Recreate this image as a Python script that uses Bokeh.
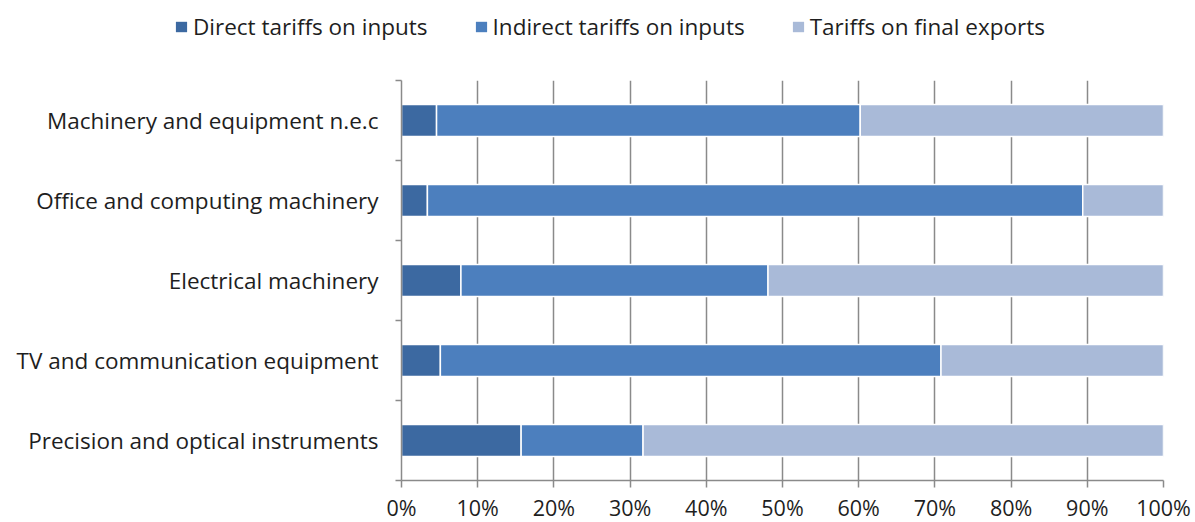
import numpy as np
from bokeh.plotting import figure
from bokeh.layouts import column
from bokeh.models import ColumnDataSource, FixedTicker, Legend, LegendItem, Range1d
from bokeh.embed import file_html
from bokeh.resources import INLINE

categories = [
    "Precision and optical instruments",
    "TV and communication equipment",
    "Electrical machinery",
    "Office and computing machinery",
    "Machinery and equipment n.e.c",
]
direct = [15.7, 5.1, 7.8, 3.4, 4.6]
indirect = [16.0, 65.7, 40.3, 86.0, 55.6]
final = [68.3, 29.2, 51.9, 10.6, 39.8]
series = ["Direct tariffs on inputs", "Indirect tariffs on inputs", "Tariffs on final exports"]
colors = ["#3C69A1", "#4C7FBE", "#A9BAD8"]
x_ticks = list(range(0, 101, 10))
x_tick_labels = [f"{t}%" for t in x_ticks]

FONT = "Open Sans"
FS = "22.5px"
FS_X = "21.5px"
TEXT = "#1e1e1e"
GRID = "#8a8a8a"

ypos = list(np.arange(len(categories)) + 0.5)
src = ColumnDataSource(dict(y=ypos, d=[v / 100 for v in direct], i=[v / 100 for v in indirect],
                            f=[v / 100 for v in final]))

# ---- legend strip (its renderers are hidden; only their swatches are shown) ----
lf = figure(frame_width=1195, frame_height=50, output_backend="svg", toolbar_location=None,
            x_range=Range1d(0, 1), y_range=Range1d(0, 1),
            min_border_left=0, min_border_right=0, min_border_top=0, min_border_bottom=0,
            x_axis_type=None, y_axis_type=None)
lf.outline_line_color = None
lf.grid.grid_line_color = None
lrs = lf.hbar_stack(["d", "i", "f"], y="y", height=0.4, source=src, color=colors,
                    line_color=None, visible=False)
legend = Legend(items=[LegendItem(label=s, renderers=[r]) for s, r in zip(series, lrs)],
                orientation="horizontal", location=(174, 8),
                glyph_width=14, glyph_height=13, label_standoff=5, spacing=46,
                padding=0, margin=0, border_line_color=None, background_fill_alpha=0,
                inactive_fill_alpha=0,
                label_text_font=FONT, label_text_font_size=FS, label_text_color=TEXT,
                label_height=22)
lf.add_layout(legend, "center")

# ---- main chart ----
p = figure(frame_width=762, frame_height=400, output_backend="svg", toolbar_location=None,
           x_range=Range1d(0, 1), y_range=Range1d(0, len(categories)),
           min_border_left=401, min_border_top=30, min_border_right=32, min_border_bottom=30)
p.outline_line_color = None

renderers = p.hbar_stack(["d", "i", "f"], y="y", height=0.4, source=src, color=colors,
                         line_color="white", line_width=1.5)

p.xaxis.ticker = FixedTicker(ticks=[t / 100 for t in x_ticks], minor_ticks=[])
p.xaxis.major_label_overrides = {t / 100: lab for t, lab in zip(x_ticks, x_tick_labels)}
p.xaxis.axis_line_color = GRID
p.xaxis.axis_line_width = 1.5
p.xaxis.major_tick_line_color = GRID
p.xaxis.major_tick_line_width = 1.5
p.xaxis.major_tick_in = 0
p.xaxis.major_tick_out = 7
p.xaxis.major_label_standoff = 5
p.xaxis.major_label_text_font = FONT
p.xaxis.major_label_text_font_size = FS_X
p.xaxis.major_label_text_color = TEXT

p.yaxis.ticker = FixedTicker(ticks=ypos, minor_ticks=list(range(len(categories) + 1)))
p.yaxis.major_label_overrides = {y: c for y, c in zip(ypos, categories)}
p.yaxis.axis_line_color = GRID
p.yaxis.axis_line_width = 1.5
p.yaxis.major_tick_line_color = None
p.yaxis.minor_tick_line_color = GRID
p.yaxis.minor_tick_line_width = 1.5
p.yaxis.minor_tick_in = 0
p.yaxis.minor_tick_out = 6
p.yaxis.major_label_standoff = 17
p.yaxis.major_label_text_font = FONT
p.yaxis.major_label_text_font_size = FS
p.yaxis.major_label_text_color = TEXT

p.xgrid.grid_line_color = GRID
p.xgrid.grid_line_width = 1.5
p.xgrid.ticker = FixedTicker(ticks=[t / 100 for t in x_ticks])
p.ygrid.grid_line_color = None

layout = column(lf, p, spacing=0)
open("out.html", "w").write(file_html(layout, INLINE))
